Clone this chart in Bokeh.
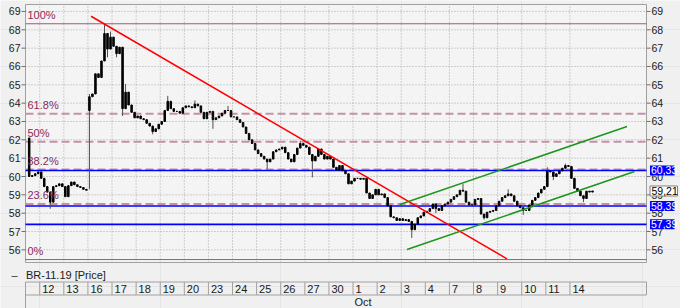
from bokeh.plotting import figure
from bokeh.models import Range1d
from bokeh.embed import file_html
from bokeh.resources import INLINE
from bokeh.core.properties import value

# ---------------- data ----------------
series_name = "BR-11.19 [Price]"
legend_mark = "\u2013"
date_labels = ["12", "13", "16", "17", "18", "19", "20", "23", "24", "25", "26", "27", "30",
               "1", "2", "3", "4", "7", "8", "9", "10", "11", "14"]
month_label = "Oct"
month_start_day = 13          # index of "1" (Oct 1) in date_labels
bars_per_day = 8
first_day_slots = 4           # visible bars of Sep 11 (last slots of that day)
first_open = 62.1

close = [
    # Sep 11 (partial)
    60.0, 60.05, 60.15, 60.25,
    # Sep 12
    59.9, 59.45, 59.15, 58.6, 59.45, 59.5, 59.6, 59.45,
    # Sep 13
    58.9, 59.5, 59.7, 59.55, 59.45, 59.4, 59.3, 59.25,
    # Sep 16
    64.35, 64.5, 65.6, 65.4, 66.3, 67.8, 66.95, 67.6,
    # Sep 17
    67.1, 66.7, 67.05, 63.7, 64.6, 63.9, 63.5, 63.2,
    # Sep 18
    63.3, 63.15, 63.1, 62.9, 62.75, 62.45, 62.6, 62.85,
    # Sep 19
    63.0, 63.6, 64.1, 63.7, 63.55, 63.55, 63.45, 63.75,
    # Sep 20
    63.85, 63.8, 63.75, 63.95, 63.85, 63.5, 63.15, 63.5,
    # Sep 23
    63.55, 63.1, 63.2, 63.3, 63.45, 63.6, 63.6, 63.25,
    # Sep 24
    63.25, 63.1, 62.95, 62.7, 62.35, 62.0, 61.8, 61.45,
    # Sep 25
    61.25, 61.1, 60.95, 60.8, 60.95, 61.35, 61.45, 61.5,
    # Sep 26
    61.6, 61.3, 60.95, 60.8, 61.2, 61.55, 61.8, 61.7,
    # Sep 27
    61.6, 61.2, 60.85, 61.1, 61.5, 61.2, 60.95, 61.1,
    # Sep 30
    60.95, 60.5, 60.35, 60.6, 60.3, 60.15, 59.6, 59.75,
    # Oct 1
    59.9, 59.9, 59.85, 59.9, 59.1, 58.8, 59.0, 59.3,
    # Oct 2
    59.0, 59.05, 58.85, 58.4, 57.8, 57.75, 57.6, 57.7,
    # Oct 3
    57.6, 57.65, 57.55, 57.1, 57.4, 57.75, 57.85, 58.05,
    # Oct 4
    58.1, 58.25, 58.5, 58.25, 58.15, 58.4, 58.5, 58.6,
    # Oct 7
    58.75, 58.9, 59.0, 59.25, 59.2, 58.6, 58.45, 58.45,
    # Oct 8
    58.75, 58.8, 57.95, 57.75, 58.05, 58.1, 58.15, 58.4,
    # Oct 9
    58.65, 58.85, 58.95, 59.05, 58.95, 58.65, 58.4, 58.3,
    # Oct 10
    58.15, 58.15, 58.45, 58.7, 58.85, 59.1, 59.3, 59.45,
    # Oct 11
    60.3, 60.25, 60.0, 60.15, 60.3, 60.45, 60.6, 60.55,
    # Oct 14
    59.9, 59.35, 59.2, 58.95, 58.8, 59.2, 59.15, 59.21,
]

gap_day, gap_slot, gap_open = 2, 0, 63.6     # Sep 16 opening gap

# wick extremes: (day index in date_labels, slot, price)
wick_day = [0, 2, 2, 2, 2, 2, 3, 3, 3, 4, 5, 6, 7, 7, 9, 10, 11, 15, 16, 17, 18, 19, 20, 21, 21, 21, 22]
wick_slot = [3, 0, 0, 5, 6, 7, 1, 3, 4, 5, 2, 3, 1, 6, 3, 6, 2, 3, 3, 4, 3, 3, 0, 0, 2, 6, 4]
wick_val = [58.24, 59.3, 64.5, 68.3, 66.5, 67.9, 66.5, 63.3, 65.05, 62.3, 64.4, 64.15, 62.6, 63.85,
            60.4, 61.95, 59.95, 56.65, 58.0, 59.6, 57.65, 59.3, 57.9, 60.5, 59.8, 60.7, 58.6]

fib_low, fib_high = 55.47, 68.33
fib_ratios = [0.0, 0.236, 0.382, 0.5, 0.618, 1.0]
fib_texts = ["0%", "23.6%", "38.2%", "50%", "61.8%", "100%"]

level_prices = [60.33, 58.39, 57.39]
level_texts = ["60,33", "58,39", "57,39"]
last_price, last_text = 59.21, "59,21"

red_x, red_y = [2.13, 19.39], [68.74, 55.51]
green_up_x, green_up_y = [14.94, 24.37], [58.47, 62.73]
green_lo_x, green_lo_y = [15.24, 24.68], [56.02, 60.27]

y_ticks = list(range(56, 70))

# ---------------- geometry (layout only) ----------------
W, H = 680, 308
FL, FR, FT, FB = 25, 646, 4, 262     # plot frame edges on the page
PX = 24.1                             # pixels per trading day
X0 = -0.59
X1 = X0 + (FR - FL) / PX
Y0, Y1 = 55.31, 69.38
PY = (FB - FT) / (Y1 - Y0)
XA = X0 - FL / PX
XB = XA + W / PX
YA = Y1 + FT / PY
YB = Y1 - (H - FT) / PY
FONT = "Liberation Sans"
TXT = "#1a1a1a"
GRID = "#a8a8a8"
BORDER = "#a0a0a0"

def dx(px):
    return px / PX

def dy(px):
    return px / PY

# bar positions
xs = []
for s in range(bars_per_day - first_day_slots, bars_per_day):
    xs.append(-1 + (s + 0.5) / bars_per_day)
for d in range(len(date_labels)):
    for s in range(bars_per_day):
        xs.append(d + (s + 0.5) / bars_per_day)

def bar_index(d, s):
    return first_day_slots + d * bars_per_day + s

opens = [first_open] + close[:-1]
opens[bar_index(gap_day, gap_slot)] = gap_open
tops = [max(o, c) for o, c in zip(opens, close)]
bots = [min(o, c) for o, c in zip(opens, close)]

# ---------------- figure ----------------
p = figure(width=W, height=H, x_range=Range1d(XA, XB), y_range=Range1d(YB, YA),
           output_backend="svg", toolbar_location=None, x_axis_location=None,
           y_axis_location=None, min_border=0, outline_line_color=None,
           background_fill_color="#f0f0f0", border_fill_color="#f0f0f0")
p.extra_y_ranges = {"px": Range1d(H, 0)}

# plot area
p.quad(left=[X0], right=[X1], bottom=[Y0], top=[Y1], fill_color="#f4f4f4",
       line_color=BORDER, line_width=1)

# grid
n = len(date_labels)
p.segment(x0=[X0] * len(y_ticks), x1=[X1] * len(y_ticks), y0=y_ticks, y1=y_ticks,
          line_color=GRID, line_width=1, line_dash="1 2")
p.segment(x0=list(range(n)), x1=list(range(n)), y0=[Y0] * n, y1=[Y1] * n,
          line_color=GRID, line_width=1, line_dash="1 2")

# axes: ticks and labels (left and right)
p.segment(x0=[X0 - dx(4)] * len(y_ticks), x1=[X0] * len(y_ticks), y0=y_ticks, y1=y_ticks,
          line_color="#707070", line_width=1)
p.segment(x0=[X1] * len(y_ticks), x1=[X1 + dx(4)] * len(y_ticks), y0=y_ticks, y1=y_ticks,
          line_color="#707070", line_width=1)
tick_txt = [str(t) for t in y_ticks]
p.text(x=[X0 - dx(5)] * len(y_ticks), y=y_ticks, text=tick_txt, text_align="right",
       text_baseline="middle", text_font=value(FONT), text_font_size="10.5px", text_color=TXT)
p.text(x=[X1 + dx(5)] * len(y_ticks), y=y_ticks, text=tick_txt, text_align="left",
       text_baseline="middle", text_font=value(FONT), text_font_size="10.5px", text_color=TXT)

# fibonacci levels
fib_prices = [fib_low + r * (fib_high - fib_low) for r in fib_ratios]
solid = [fp for r, fp in zip(fib_ratios, fib_prices) if r in (0.0, 1.0)]
dashed = [fp for r, fp in zip(fib_ratios, fib_prices) if r not in (0.0, 1.0)]
p.segment(x0=[X0] * len(dashed), x1=[X1] * len(dashed), y0=dashed, y1=dashed,
          line_color="#c490ab", line_width=2, line_dash="8 4")
p.segment(x0=[X0] * len(solid), x1=[X1] * len(solid), y0=solid, y1=solid,
          line_color="#a0587e", line_width=1)

# blue levels
p.segment(x0=[X0] * 3, x1=[X1] * 3, y0=level_prices, y1=level_prices,
          line_color="#0000ff", line_width=1.6)

# candles
wx = [xs[bar_index(d, s)] for d, s in zip(wick_day, wick_slot)]
wc = [close[bar_index(d, s)] for d, s in zip(wick_day, wick_slot)]
p.segment(x0=wx, x1=wx, y0=wick_val, y1=wc, line_color="#505050", line_width=1)
p.vbar(x=xs, width=0.5 / bars_per_day, top=tops, bottom=bots,
       fill_color="#000000", line_color="#000000", line_width=1)

# trend lines
p.line(red_x, red_y, line_color="#ff0000", line_width=1.5)
p.line(green_up_x, green_up_y, line_color="#1c961c", line_width=1.5)
p.line(green_lo_x, green_lo_y, line_color="#1c961c", line_width=1.5)

# fib labels
p.text(x=[X0 + dx(2)] * len(fib_texts), y=[fp + dy(2.5) for fp in fib_prices], text=fib_texts,
       text_align="left", text_baseline="bottom", text_font=value(FONT),
       text_font_size="11px", text_color="#8b2a5c")

# right-side value boxes
m = len(level_prices)
p.quad(left=[X1 + dx(3.5)] * m, right=[X1 + dx(28)] * m,
       bottom=[v - dy(5) for v in level_prices], top=[v + dy(5) for v in level_prices],
       fill_color="#0000ff", line_color=None)
p.text(x=[X1 + dx(4.5)] * m, y=level_prices, text=level_texts, text_align="left",
       text_baseline="middle", text_font=value(FONT), text_font_size="10.5px",
       text_color="#ffffff")
p.quad(left=[X1 + dx(3.5)], right=[X1 + dx(31)], bottom=[last_price - dy(5)],
       top=[last_price + dy(5)], fill_color="#ffffff", line_color="#808080", line_width=1)
p.text(x=[X1 + dx(5)], y=[last_price], text=[last_text], text_align="left",
       text_baseline="middle", text_font=value(FONT), text_font_size="10.5px",
       text_color="#000000")

# ---------------- legend + date strip (pixel rows) ----------------
ROW_TOP, ROW_BOT, LEG_Y, LAB_Y, MON_Y = 281.5, 294.5, 274, 288.3, 301.5
p.text(x=[X0 - dx(14)], y=[LEG_Y], text=[legend_mark], text_align="left",
       text_baseline="middle", text_font=value(FONT), text_font_size="11px",
       text_color="#303030", y_range_name="px")
p.text(x=[X0 + dx(0.5)], y=[LEG_Y], text=[series_name], text_align="left",
       text_baseline="middle", text_font=value(FONT), text_font_size="11px",
       text_color=TXT, y_range_name="px")
p.segment(x0=[X0, X0], x1=[X1, X1], y0=[ROW_TOP, ROW_BOT], y1=[ROW_TOP, ROW_BOT],
          line_color=BORDER, line_width=1, y_range_name="px")
p.segment(x0=list(range(n)) + [X1], x1=list(range(n)) + [X1],
          y0=[ROW_TOP] * (n + 1), y1=[ROW_BOT] * (n + 1), line_color=BORDER, line_width=1,
          y_range_name="px")
p.segment(x0=[X0], x1=[X0], y0=[ROW_TOP], y1=[H], line_color=BORDER, line_width=1,
          y_range_name="px")
p.text(x=[d + dx(2.5) for d in range(n)], y=[LAB_Y] * n, text=date_labels,
       text_align="left", text_baseline="middle", text_font=value(FONT),
       text_font_size="11px", text_color=TXT, y_range_name="px")
p.text(x=[month_start_day + dx(1.5)], y=[MON_Y], text=[month_label], text_align="left",
       text_baseline="middle", text_font=value(FONT), text_font_size="11px", text_color=TXT,
       y_range_name="px")

open("out.html", "w").write(file_html(p, INLINE))
